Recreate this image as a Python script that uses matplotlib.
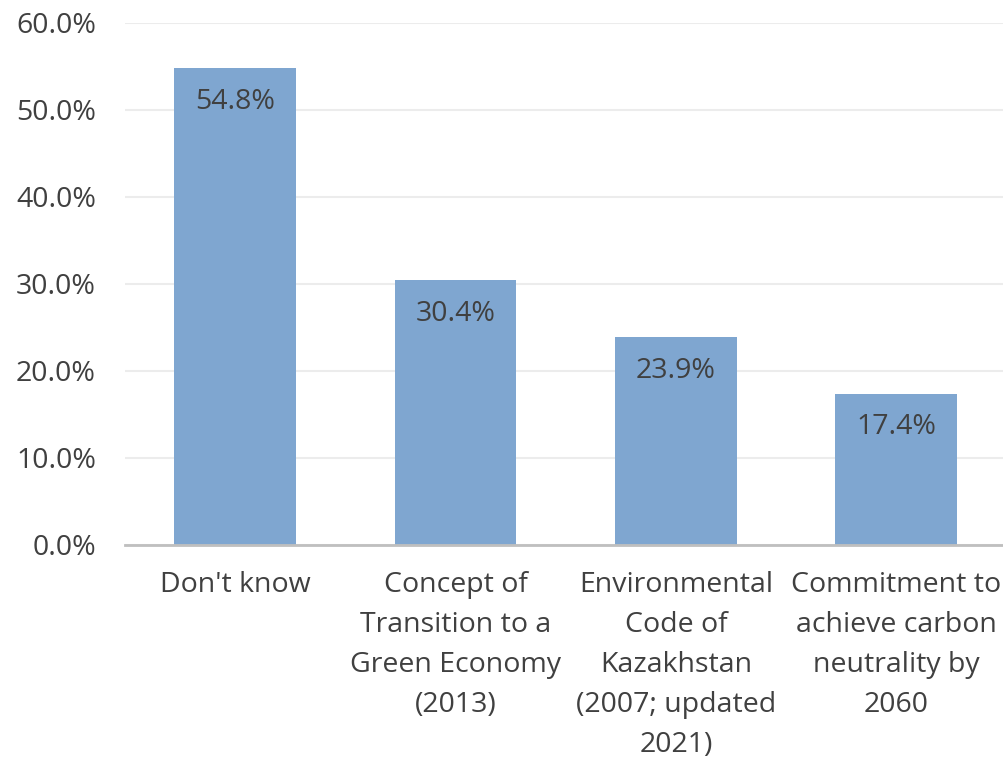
import numpy as np
import matplotlib.pyplot as plt

'''
Data
'''
categories = ["Don't know",
              "Concept of\nTransition to a\nGreen Economy\n(2013)",
              "Environmental\nCode of\nKazakhstan\n(2007; updated\n2021)",
              "Commitment to\nachieve carbon\nneutrality by\n2060"]
values = [54.8, 30.4, 23.9, 17.4]
yticks = [0, 10, 20, 30, 40, 50, 60]

plt.rcParams['font.family'] = ['Open Sans', 'DejaVu Sans']
txt = '#404040'
fs = 20.5

fig = plt.figure(figsize=(10.04, 7.59), dpi=100)
ax = fig.add_axes([0.1245, 0.282, 0.878, 0.688])

x = np.arange(len(values))
bars = ax.bar(x, values, width=0.553, color='#7fa6d0', zorder=2)

for b, v in zip(bars, values):
    ax.text(b.get_x() + b.get_width() / 2, v - 3.9, '%.1f%%' % v,
            ha='center', va='center', fontsize=fs, color=txt, zorder=3)

ax.set_xlim(-0.5, 3.5)
ax.set_ylim(0, 60)
ax.set_yticks(yticks)
ax.set_yticklabels(['%.1f%%' % t for t in yticks], fontsize=fs, color=txt)
ax.set_xticks(x)
ax.set_xticklabels(categories, fontsize=fs, color=txt, linespacing=1.57, va='top')
ax.tick_params(axis='both', length=0)
ax.tick_params(axis='y', pad=21)
ax.tick_params(axis='x', pad=19)

ax.grid(axis='y', color='#ececec', linewidth=1.5, zorder=0)
for s in ['top', 'right', 'left']:
    ax.spines[s].set_visible(False)
ax.spines['bottom'].set_color('#bfbfbf')
ax.spines['bottom'].set_linewidth(2)
ax.spines['bottom'].set_zorder(3)

fig.savefig('out.png', dpi=100)
